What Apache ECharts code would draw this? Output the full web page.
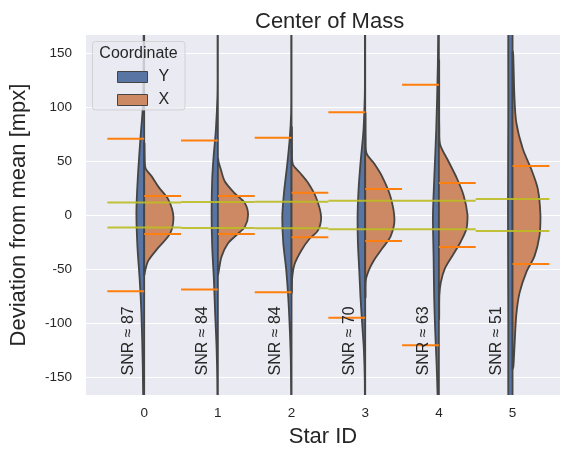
<!DOCTYPE html>
<html><head><meta charset="utf-8">
<script src="https://cdn.jsdelivr.net/npm/echarts@6/dist/echarts.min.js"></script>
<style>html,body{margin:0;padding:0;background:#fff}#chart{width:566px;height:453px}</style>
</head><body><div id="chart"></div>
<script>
// ---- data ----
const categories = ['0', '1', '2', '3', '4', '5'];
const snrValues = [87, 84, 84, 70, 63, 51];
const yTickValues = [-150, -100, -50, 0, 50, 100, 150];
const xTickValues = [0, 1, 2, 3, 4, 5];

// Y coordinate half-violins: [value, half width in category units]
const yViolin0 = [[190,0.006],[150,0.008],[110,0.012],[94,0.024],[70,0.052],[33,0.088],[2,0.106],[-29,0.092],[-60,0.061],[-91,0.038],[-138,0.02],[-190,0.008]];
const yViolin1 = [[190,0.004],[140,0.004],[110,0.006],[79,0.027],[54,0.058],[33,0.077],[2,0.085],[-29,0.077],[-60,0.054],[-91,0.037],[-122,0.018],[-153,0.008],[-190,0.004]];
const yViolin2 = [[190,0.004],[120,0.004],[94,0.006],[72,0.023],[47,0.058],[23,0.099],[-2,0.126],[-26,0.112],[-51,0.072],[-76,0.045],[-107,0.023],[-138,0.009],[-190,0.004]];
const yViolin3 = [[190,0.004],[130,0.004],[110,0.006],[79,0.023],[48,0.064],[23,0.091],[-2,0.104],[-26,0.099],[-51,0.081],[-76,0.064],[-101,0.041],[-125,0.018],[-153,0.006],[-190,0.004]];
const yViolin4 = [[190,0.006],[140,0.014],[79,0.036],[32,0.064],[-2,0.081],[-39,0.072],[-76,0.064],[-107,0.05],[-138,0.031],[-166,0.018],[-190,0.01]];
const yViolin5 = [[190,0.055],[100,0.058],[0,0.062],[-100,0.058],[-190,0.055]];

// X coordinate half-violins
const xViolin0 = [[66,0.004],[50,0.008],[43,0.02],[35.5,0.104],[26,0.194],[14,0.33],[-2,0.397],[-17,0.352],[-30,0.194],[-42,0.058],[-51,0.014],[-55,0.004]];
const xViolin1 = [[52,0.004],[49,0.01],[42,0.041],[31,0.095],[20,0.23],[11,0.366],[0,0.41],[-11,0.366],[-18.5,0.253],[-26,0.14],[-38.5,0.05],[-51,0.014],[-55,0.004]];
const xViolin2 = [[81,0.004],[60,0.006],[47,0.018],[39.5,0.108],[30,0.221],[16,0.334],[-2,0.402],[-14.5,0.357],[-22,0.244],[-33,0.131],[-45.5,0.041],[-58,0.009],[-72,0.004]];
const xViolin3 = [[94,0.004],[70,0.006],[57,0.018],[48,0.117],[35.5,0.23],[17,0.343],[-4.5,0.397],[-20,0.343],[-31,0.23],[-42,0.117],[-51,0.05],[-60,0.009],[-76,0.004]];
const xViolin4 = [[143,0.004],[100,0.004],[80,0.006],[65,0.018],[49.5,0.131],[34,0.244],[18.5,0.334],[0,0.389],[-12.5,0.375],[-24.5,0.298],[-37,0.19],[-49.5,0.081],[-62,0.027],[-74,0.007],[-96,0.004]];
const xViolin5 = [[151,0.004],[147,0.01],[110,0.025],[86,0.05],[61,0.14],[42.5,0.253],[24,0.343],[-1,0.379],[-19,0.366],[-38,0.298],[-53,0.186],[-72,0.095],[-93,0.05],[-121,0.027],[-140,0.012],[-142,0.004]];

const yViolins = [yViolin0, yViolin1, yViolin2, yViolin3, yViolin4, yViolin5];
const xViolins = [xViolin0, xViolin1, xViolin2, xViolin3, xViolin4, xViolin5];

// orange spread markers (+/-) and yellow-green band (+/-)
const ySpread = [70.5, 68.8, 71.4, 95.1, 120.4, null];
const xSpread = [17.6, 17.6, 20.5, 24.1, 29.6, 45.4];
const bandHalf = [11.6, 12.0, 12.3, 13.1, 13.2, 14.8];

// ---- styling ----
const FONT = '"Liberation Sans", Arial, Helvetica, sans-serif';
const TXT = '#262626';
const BLUE = '#5875a4';
const ORANGE = '#cc8963';
const EDGE = '#454545';

function bbox(pts) {
  let mn = [Infinity, Infinity], mx = [-Infinity, -Infinity];
  pts.forEach(function (p) {
    mn[0] = Math.min(mn[0], p[0]); mn[1] = Math.min(mn[1], p[1]);
    mx[0] = Math.max(mx[0], p[0]); mx[1] = Math.max(mx[1], p[1]);
  });
  return [mn, mx];
}

function violinSeries(name, profiles, side, color) {
  return {
    type: 'custom', name: name, clip: true, z: 2,
    itemStyle: { color: color },
    data: categories.map((c, i) => [i, 0]),
    renderItem: function (params, api) {
      const i = params.dataIndex;
      const prof = profiles[i];
      if (!prof) return null;
      const pts = [api.coord([i, prof[0][0]])];
      prof.forEach(function (p) { pts.push(api.coord([i + side * p[1], p[0]])); });
      pts.push(api.coord([i, prof[prof.length - 1][0]]));
      return {
        type: 'polygon',
        shape: { points: pts, smooth: 0.3, smoothConstraint: bbox(pts) },
        style: { fill: color, stroke: EDGE, lineWidth: 1.8 }
      };
    }
  };
}

function hlineSeries(values, x0, x1, color, width, opacity) {
  return {
    type: 'custom', clip: true, z: 3, silent: true,
    data: values.map((v, i) => [i, v == null ? 0 : v]),
    renderItem: function (params, api) {
      const i = params.dataIndex;
      const v = values[i];
      if (v == null) return null;
      return {
        type: 'group',
        children: [v, -v].map(function (val) {
          const a = api.coord([i + x0, val]);
          const b = api.coord([i + x1, val]);
          return { type: 'line', shape: { x1: a[0], y1: a[1], x2: b[0], y2: b[1] },
                   style: { stroke: color, lineWidth: width, opacity: opacity } };
        })
      };
    }
  };
}

const snrSeries = {
  type: 'custom', clip: false, z: 4, silent: true,
  data: snrValues.map((v, i) => [i, -148.5]),
  renderItem: function (params, api) {
    const i = params.dataIndex;
    const p = api.coord([i - 0.21, -148.5]);
    return {
      type: 'text', x: p[0], y: p[1], rotation: Math.PI / 2,
      style: { text: 'SNR \u2248 ' + snrValues[i], fill: TXT, font: '16px ' + FONT,
               textAlign: 'left', textVerticalAlign: 'middle' }
    };
  }
};

const chart = echarts.init(document.getElementById('chart'), null, { renderer: 'canvas' });
chart.setOption({
  animation: false,
  backgroundColor: '#ffffff',
  title: {
    text: 'Center of Mass', left: 250, top: 6,
    textStyle: { fontSize: 22, fontWeight: 'normal', color: TXT, fontFamily: FONT }
  },
  grid: { left: 85, right: 6, top: 35, bottom: 58, show: true, backgroundColor: '#eaeaf2', borderWidth: 0 },
  xAxis: {
    type: 'value', min: -0.79, max: 5.644,
    name: 'Star ID', nameLocation: 'middle', nameGap: 31,
    nameTextStyle: { fontSize: 22, color: TXT, fontFamily: FONT },
    axisLine: { show: false }, axisTick: { show: false, customValues: xTickValues },
    splitLine: { show: false },
    axisLabel: { customValues: xTickValues, fontSize: 13.5, color: TXT, fontFamily: FONT, margin: 11,
                 formatter: function (v) { return categories[Math.round(v)]; } }
  },
  yAxis: {
    type: 'value', min: -166.5, max: 166.5, minInterval: 50, maxInterval: 50,
    name: 'Deviation from mean [mpx]', nameLocation: 'middle', nameGap: 56,
    nameTextStyle: { fontSize: 22, color: TXT, fontFamily: FONT },
    axisLine: { show: false }, axisTick: { show: false, customValues: yTickValues },
    splitLine: { show: true, lineStyle: { color: '#ffffff', width: 1.2 } },
    axisLabel: { customValues: yTickValues, fontSize: 13.5, color: TXT, fontFamily: FONT, margin: 14 }
  },
  legend: {
    data: ['Y', 'X'], orient: 'vertical', left: 112, top: 61, itemGap: 1, z: 200,
    itemWidth: 30, itemHeight: 11, icon: 'rect', selectedMode: false,
    itemStyle: { borderColor: EDGE, borderWidth: 1 },
    textStyle: { fontSize: 16, color: TXT, fontFamily: FONT, lineHeight: 22, padding: [0, 0, 0, 6] }
  },
  graphic: [
    { type: 'rect', z: 150, shape: { x: 92.5, y: 41.5, width: 92.5, height: 68.5, r: 3 },
      style: { fill: 'rgba(234,234,242,0.8)', stroke: 'rgba(204,204,204,0.8)', lineWidth: 1 } },
    { type: 'text', z: 151, x: 138.5, y: 53.5,
      style: { text: 'Coordinate', fill: TXT, font: '16px ' + FONT, textAlign: 'center', textVerticalAlign: 'middle' } }
  ],
  series: [
    violinSeries('Y', yViolins, -1, BLUE),
    violinSeries('X', xViolins, 1, ORANGE),
    hlineSeries(ySpread, -0.5, 0, '#ff7f0e', 2, 1),
    hlineSeries(xSpread, 0, 0.5, '#ff7f0e', 2, 1),
    hlineSeries(bandHalf, -0.5, 0.5, '#bcbd22', 2, 0.9),
    snrSeries
  ]
});
</script></body></html>
